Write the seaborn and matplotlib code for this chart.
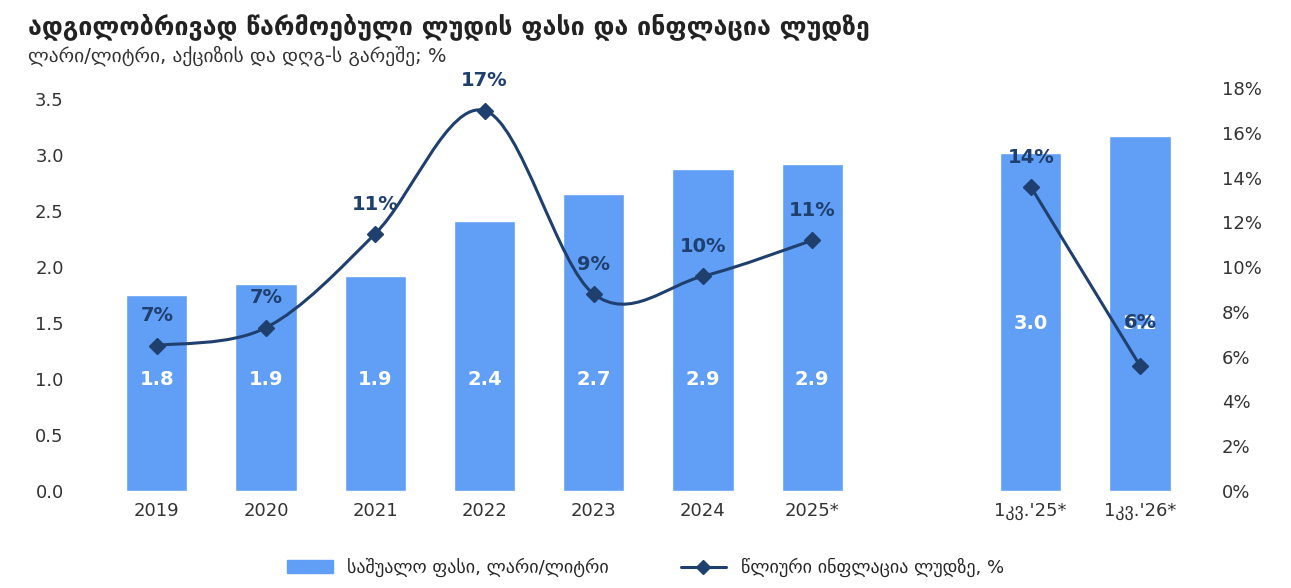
import matplotlib
matplotlib.use("Agg")
import matplotlib.pyplot as plt
import seaborn as sns
import numpy as np
from matplotlib.path import Path
from matplotlib.patches import PathPatch
from matplotlib.lines import Line2D
from matplotlib.patches import Patch

categories = ["2019", "2020", "2021", "2022", "2023", "2024", "2025*", "1კვ.'25*", "1კვ.'26*"]
positions = [0, 1, 2, 3, 4, 5, 6, 8, 9]
price = [1.75, 1.85, 1.92, 2.41, 2.65, 2.88, 2.92, 3.02, 3.17]
price_labels = ["1.8", "1.9", "1.9", "2.4", "2.7", "2.9", "2.9", "3.0", "3.2"]
infl = [6.5, 7.3, 11.5, 17.0, 8.8, 9.6, 11.2, 13.6, 5.6]
infl_labels = ["7%", "7%", "11%", "17%", "9%", "10%", "11%", "14%", "6%"]

sns.set_theme(style="white")
plt.rcParams['font.family'] = ['DejaVu Sans']
bar_c = "#619ff7"
line_c = "#1f3f6e"
txt = "#333333"

fig = plt.figure(figsize=(12.91, 5.88), dpi=100)
ax = fig.add_axes([0.058, 0.165, 0.88, 0.685])
sns.barplot(x=positions, y=price, ax=ax, color=bar_c, width=0.56, saturation=1, native_scale=True)
ax.set_xlim(-0.75, 9.65)
ax.set_ylim(0, 3.6)
ax.set_yticks(np.arange(0, 3.51, 0.5))
ax.set_yticklabels([f"{v:.1f}" for v in np.arange(0, 3.51, 0.5)], color=txt, fontsize=13)
ax.set_xticks(positions)
ax.set_xticklabels(categories, color=txt, fontsize=13)
ax.tick_params(axis='both', length=0, pad=8)
for s in ax.spines.values():
    s.set_visible(False)
for p, v, l in zip(positions, price, price_labels):
    ax.text(p, 1.0 if p < 8 else 1.5, l, ha='center', va='center', color='white', fontsize=14, fontweight='bold')
# 3.2 label sits higher
ax2 = ax.twinx()
ax2.set_ylim(0, 18)
ax2.set_yticks(range(0, 19, 2))
ax2.set_yticklabels([f"{v}%" for v in range(0, 19, 2)], color=txt, fontsize=13)
ax2.tick_params(axis='y', length=0, pad=8)
for s in ax2.spines.values():
    s.set_visible(False)

def smooth_path(xs, ys):
    verts = [(xs[0], ys[0])]
    codes = [Path.MOVETO]
    n = len(xs)
    for i in range(n - 1):
        x0, y0 = (xs[i-1], ys[i-1]) if i > 0 else (xs[i], ys[i])
        x1, y1 = xs[i], ys[i]
        x2, y2 = xs[i+1], ys[i+1]
        x3, y3 = (xs[i+2], ys[i+2]) if i + 2 < n else (x2, y2)
        c1 = (x1 + (x2 - x0) / 6, y1 + (y2 - y0) / 6)
        c2 = (x2 - (x3 - x1) / 6, y2 - (y3 - y1) / 6)
        verts += [c1, c2, (x2, y2)]
        codes += [Path.CURVE4] * 3
    return Path(verts, codes)

ax2.add_patch(PathPatch(smooth_path(positions[:7], infl[:7]), fill=False, ec=line_c, lw=2.2))
ax2.plot(positions[7:], infl[7:], color=line_c, lw=2.2)
ax2.plot(positions, infl, ls='none', marker='D', ms=8, color=line_c)
for p, v, l in zip(positions, infl, infl_labels):
    if p == 9:
        ax2.text(p, v + 1.5, l, ha='center', va='bottom', color=line_c, fontsize=14, fontweight='bold')
    else:
        ax2.text(p, v + 0.9, l, ha='center', va='bottom', color=line_c, fontsize=14, fontweight='bold')

fig.text(0.022, 0.955, "ადგილობრივად წარმოებული ლუდის ფასი და ინფლაცია ლუდზე", fontsize=18, fontweight='bold', color='#222222', va='center')
fig.text(0.022, 0.905, "ლარი/ლიტრი, აქციზის და დღგ-ს გარეშე; %", fontsize=14, color='#333333', va='center')

handles = [Patch(color=bar_c, label="საშუალო ფასი, ლარი/ლიტრი"),
           Line2D([0], [0], color=line_c, marker='D', ms=7, lw=2.2, label="წლიური ინფლაცია ლუდზე, %")]
fig.legend(handles=handles, loc='center', bbox_to_anchor=(0.5, 0.035), ncol=2, frameon=False, fontsize=13, handlelength=2.5, columnspacing=4)
fig.savefig("out.png", dpi=100)
